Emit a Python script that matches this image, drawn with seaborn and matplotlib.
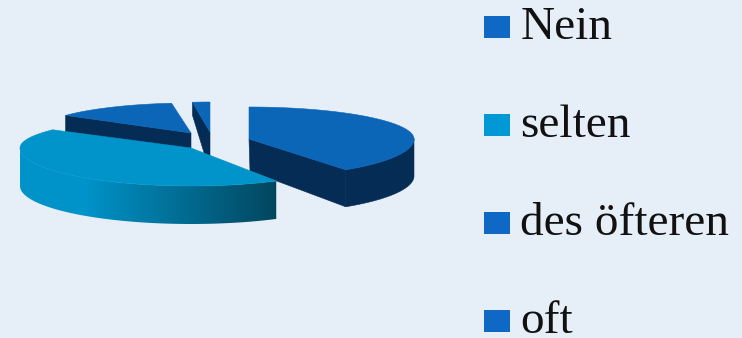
import numpy as np
import matplotlib
matplotlib.use("Agg")
import matplotlib.pyplot as plt
from matplotlib.patches import Polygon, Patch, Rectangle
from matplotlib.legend_handler import HandlerPatch
from matplotlib.colors import to_rgb
import seaborn as sns

categories = ["Nein", "selten", "des öfteren", "oft"]
shares = [41, 44, 13, 2]

BG = "#E6EEF8"
sns.set_theme(style="white", rc={"figure.facecolor": BG, "axes.facecolor": BG})
palette = sns.color_palette(["#0C66B8", "#0094CB", "#0C66B8", "#0C66B8"])
legend_colors = sns.color_palette(["#0F69C4", "#0099D6", "#0F69C4", "#0F69C4"])
DARK = "#052C54"

# per-slice layout: apex (px), horizontal radius, back/front radius, depths, angular tweak
layout = [
    dict(c=(249, 139), a=165, bb=32, bf=38, d_apex=32, d_arc=37, rot=-3.5, z=3),
    dict(c=(191, 148), a=171, bb=31, bf=38, d_apex=36, d_arc=38, rot=2.5, z=4),
    dict(c=(191, 133), a=155, bb=30, bf=36, d_apex=30, d_arc=30, rot=0.0, z=1),
    dict(c=(210, 132), a=140, bb=30, bf=36, d_apex=40, d_arc=13, rot=0.0, z=2),
]

fig = plt.figure(figsize=(7.42, 3.38), dpi=100)
ax = fig.add_axes([0, 0, 1, 1])


def arc_pts(s, t):
    t = np.radians(t)
    b = np.where(np.cos(t) > 0, s["bb"], s["bf"])
    return s["c"][0] + s["a"] * np.sin(t), s["c"][1] - b * np.cos(t)


edges = np.cumsum([0] + list(shares)) / sum(shares) * 360
for i, s in enumerate(layout):
    t0 = edges[i] + (0 if i == 0 else s["rot"])
    t1 = edges[i + 1] + (0 if i == 1 else s["rot"])
    th = np.linspace(t0, t1, 200)
    x, y = arc_pts(s, th)
    cx, cy = s["c"]
    z = s["z"]
    d = s["d_arc"]

    if i == 0:
        ax.add_patch(Polygon([(cx, cy), (x[-1], y[-1]), (x[-1], y[-1] + d), (cx + 1, cy + s["d_apex"])],
                             fc=DARK, ec=DARK, lw=0.4, zorder=z))
    if i in (2, 3):
        ax.add_patch(Polygon([(cx, cy), (x[0], y[0]), (x[0], y[0] + d), (cx, cy + s["d_apex"])],
                             fc=DARK, ec=DARK, lw=0.4, zorder=z))
    if i in (0, 1):
        keep = np.cos(np.radians(th)) <= 0.02
        xr, yr = x[keep], y[keep]
        rim = np.r_[np.c_[xr, yr], np.c_[xr, yr + d][::-1]]
        if i == 0:
            ax.add_patch(Polygon(rim, fc=DARK, ec=DARK, lw=0.4, zorder=z))
        else:
            f = np.clip((np.linspace(xr.min(), xr.max(), 256) - 85) / (277 - 85), 0, 1)[None, :, None]
            c0, c1 = np.array(to_rgb("#0093C9")), np.array(to_rgb("#03465E"))
            im = ax.imshow(c0 + (c1 - c0) * f, extent=(xr.min(), xr.max(), yr.max() + d, yr.min()),
                           aspect="auto", zorder=z, interpolation="bilinear")
            im.set_clip_path(Polygon(rim, transform=ax.transData))

    ax.add_patch(Polygon(np.r_[[(cx, cy)], np.c_[x, y]], fc=palette[i], ec=palette[i], lw=0.4, zorder=z + 0.1))

ax.set_xlim(0, 742)
ax.set_ylim(338, 0)
ax.axis("off")


def square(legend, orig_handle, xdescent, ydescent, width, height, fontsize):
    return Rectangle((0, 0.72), 18.4, 15.8)


handles = [Patch(fc=c, ec=c, lw=0) for c in legend_colors]
ax.legend(handles, categories, loc="upper left", bbox_to_anchor=(484 / 742, 1 - 6.5 / 338),
          frameon=False, borderpad=0, borderaxespad=0,
          prop={"family": "Liberation Serif", "size": 34},
          handler_map={Patch: HandlerPatch(patch_func=square)},
          handlelength=0.53, handleheight=0.46, handletextpad=0.24, labelspacing=1.175,
          labelcolor="#111111")

fig.savefig("out.png", dpi=100, facecolor=BG)
